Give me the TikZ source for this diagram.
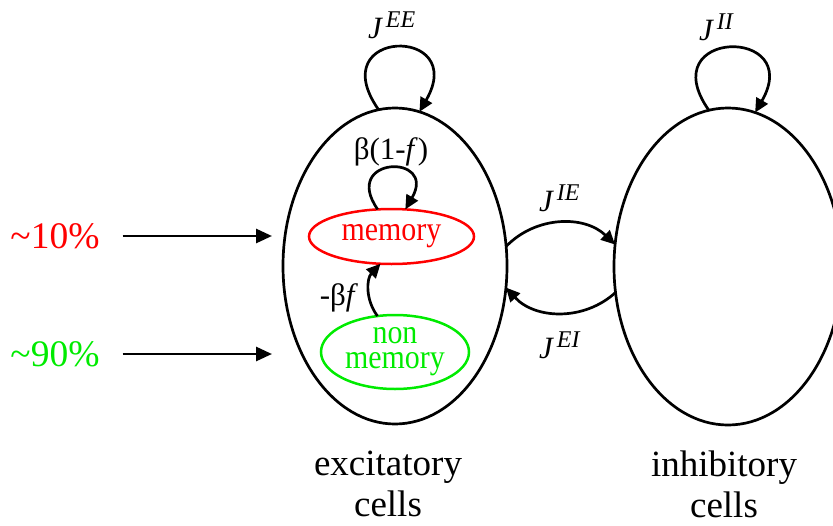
\documentclass[tikz,border=0pt]{standalone}
\usepackage{fontspec}
\setmainfont{Liberation Serif}
\usetikzlibrary{shapes.geometric,arrows.meta}
\definecolor{memred}{RGB}{255,0,0}
\definecolor{memgreen}{RGB}{0,235,0}
% coupling symbol J with a raised index
\newcommand{\coupling}[1]{{\fontsize{31}{33}\selectfont\itshape J}\hspace{4pt}\raisebox{11pt}{\fontsize{24}{26}\selectfont\itshape #1}}
% narrower inner labels
\newcommand{\tallsub}[1]{\scalebox{0.88}[1]{#1}}
\begin{document}
\begin{tikzpicture}[x=1pt,y=1pt,
  pop/.style={ellipse,draw,line width=2.7pt,inner sep=0pt,outer sep=0pt},
  sub/.style={ellipse,draw,line width=2.5pt,inner sep=0pt,outer sep=0pt,
    font=\fontsize{34}{25}\selectfont,align=center},
  link/.style={line width=2.7pt,-{Triangle[length=14pt,width=13pt]}},
  feed/.style={line width=2.8pt,-{Triangle[length=16pt,width=14pt]}},
  caption/.style={font=\fontsize{37}{41}\selectfont,align=center,inner sep=0pt,anchor=north},
  coup/.style={inner sep=0pt,anchor=base west},
  rate/.style={font=\fontsize{31}{33}\selectfont,inner sep=0pt},
  share/.style={font=\fontsize{37.5}{40}\selectfont,inner sep=0pt}
]
\useasboundingbox (0,0) rectangle (833,-525);

% the two populations
\node[pop,minimum width=224pt,minimum height=316pt] (exc) at (395,-266) {};
\node[pop,minimum width=228pt,minimum height=317pt] (inh) at (728,-266.5) {};

% sub-populations of the excitatory cells
\node[sub,draw=memred,text=memred,minimum width=165pt,minimum height=55pt] (mem) at (391.5,-236.5) {\tallsub{memory}};
\node[sub,draw=memgreen,text=memgreen,minimum width=148pt,minimum height=74pt] (non) at (395,-352) {\tallsub{non}\\\tallsub{memory}};

% recurrent couplings
\draw[link] (exc.96.5) .. controls +(125:100) and +(60:100) .. (exc.81);
\draw[link] (inh.97) .. controls +(125:100) and +(60:100) .. (inh.80);
\draw[link] (exc.10) to[bend left=45] (inh.169);
\draw[link] (inh.193) to[bend left=45] (exc.349);

% transitions between sub-populations
\draw[link] (mem.117) .. controls +(125:65) and +(60:65) .. (mem.63);
\draw[link] (non.116) to[bend left=40] (mem.248);

% coupling labels
\node[coup] (jee) at (368,-38) {\coupling{EE}};
\node[coup] (jii) at (699,-40) {\coupling{II}};
\node[coup] (jie) at (539,-211) {\coupling{IE}};
\node[coup] (jei) at (539,-358) {\coupling{EI}};

\node[rate] (loopr) at (391,-152) {β(1-\textit{f})};
\node[rate] (convr) at (339,-298) {-β\textit{f}};

% external inputs
\node[share,text=memred] (p10) at (55,-236) {\textasciitilde 10\%};
\node[share,text=memgreen] (p90) at (55,-354) {\textasciitilde 90\%};
\draw[feed,shorten <=23pt,shorten >=11pt] (p10.east) -- (exc.west |- p10.east);
\draw[feed,shorten <=23pt,shorten >=11pt] (p90.east) -- (exc.west |- p90.east);

% population names
\node[caption] (exct) at (388,-451) {excitatory\\cells};
\node[caption] (inht) at (724,-451) {inhibitory\\cells};
\end{tikzpicture}
\end{document}
